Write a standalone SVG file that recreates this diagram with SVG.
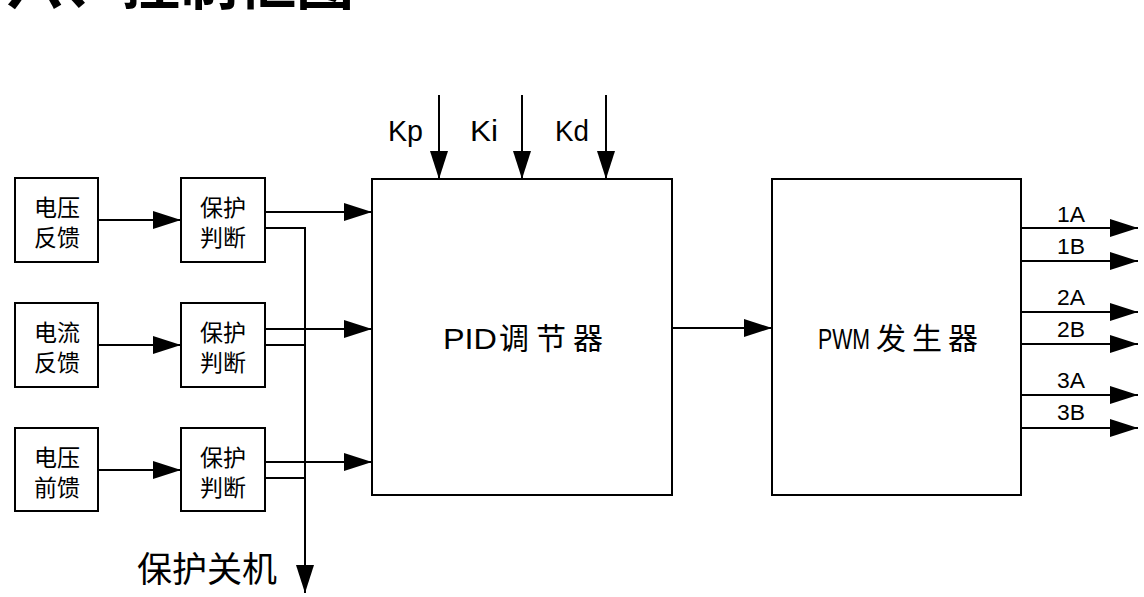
<svg xmlns="http://www.w3.org/2000/svg" width="1144" height="597" viewBox="0 0 1144 597">
<style>
.box{fill:#fff;stroke:#000;stroke-width:2}
.ln{fill:none;stroke:#000;stroke-width:2}
.zh{font-family:"Noto Sans CJK SC","Noto Sans",sans-serif;fill:#000}
.lat{font-family:"Liberation Sans","DejaVu Sans",sans-serif;fill:#000}
</style>
<defs>
<marker id="ah" markerUnits="userSpaceOnUse" markerWidth="28" markerHeight="18" refX="28" refY="9" orient="auto">
<path d="M0,0 L28,9 L0,18 Z" fill="#000"/>
</marker>
</defs>
<rect width="1144" height="597" fill="#fff"/>
<text class="zh" x="6" y="4" font-size="58" font-weight="bold">六、控制框图</text>

<g id="n-vfb"><rect class="box" x="15" y="178" width="83" height="84"/>
<text class="zh" x="57" y="216" font-size="23" text-anchor="middle">电压</text>
<text class="zh" x="57" y="246" font-size="23" text-anchor="middle">反馈</text></g>
<g id="n-ifb"><rect class="box" x="15" y="303" width="83" height="84"/>
<text class="zh" x="57" y="341" font-size="23" text-anchor="middle">电流</text>
<text class="zh" x="57" y="371" font-size="23" text-anchor="middle">反馈</text></g>
<g id="n-vff"><rect class="box" x="15" y="428" width="83" height="83"/>
<text class="zh" x="57" y="466" font-size="23" text-anchor="middle">电压</text>
<text class="zh" x="57" y="496" font-size="23" text-anchor="middle">前馈</text></g>

<g id="n-p1"><rect class="box" x="181" y="178" width="84" height="84"/>
<text class="zh" x="223" y="216" font-size="23" text-anchor="middle">保护</text>
<text class="zh" x="223" y="246" font-size="23" text-anchor="middle">判断</text></g>
<g id="n-p2"><rect class="box" x="181" y="303" width="84" height="84"/>
<text class="zh" x="223" y="341" font-size="23" text-anchor="middle">保护</text>
<text class="zh" x="223" y="371" font-size="23" text-anchor="middle">判断</text></g>
<g id="n-p3"><rect class="box" x="181" y="428" width="84" height="83"/>
<text class="zh" x="223" y="466" font-size="23" text-anchor="middle">保护</text>
<text class="zh" x="223" y="496" font-size="23" text-anchor="middle">判断</text></g>

<g id="n-pid"><rect class="box" x="372" y="179" width="300" height="316"/>
<text class="lat" x="443" y="349" font-size="30" textLength="54" lengthAdjust="spacingAndGlyphs">PID</text>
<text class="zh" x="499" y="349" font-size="30" letter-spacing="7">调节器</text></g>

<g id="n-pwm"><rect class="box" x="772" y="179" width="249" height="316"/>
<text class="lat" x="818" y="349" font-size="30" textLength="52" lengthAdjust="spacingAndGlyphs">PWM</text>
<text class="zh" x="876" y="349" font-size="30" letter-spacing="6">发生器</text></g>

<g id="labels">
<text class="lat" x="388" y="141" font-size="29" textLength="35" lengthAdjust="spacingAndGlyphs">Kp</text>
<text class="lat" x="470" y="141" font-size="29" textLength="28" lengthAdjust="spacingAndGlyphs">Ki</text>
<text class="lat" x="555" y="141" font-size="29" textLength="34" lengthAdjust="spacingAndGlyphs">Kd</text>
<text class="zh" x="137" y="582" font-size="35">保护关机</text>
<text class="lat" x="1057" y="222" font-size="22" textLength="28" lengthAdjust="spacingAndGlyphs">1A</text>
<text class="lat" x="1057" y="254" font-size="22" textLength="28" lengthAdjust="spacingAndGlyphs">1B</text>
<text class="lat" x="1057" y="305" font-size="22" textLength="28" lengthAdjust="spacingAndGlyphs">2A</text>
<text class="lat" x="1057" y="337" font-size="22" textLength="28" lengthAdjust="spacingAndGlyphs">2B</text>
<text class="lat" x="1057" y="388" font-size="22" textLength="28" lengthAdjust="spacingAndGlyphs">3A</text>
<text class="lat" x="1057" y="420" font-size="22" textLength="28" lengthAdjust="spacingAndGlyphs">3B</text>
</g>

<g id="connectors">
<line class="ln" x1="98" y1="220" x2="181" y2="220" marker-end="url(#ah)"/>
<line class="ln" x1="98" y1="345" x2="181" y2="345" marker-end="url(#ah)"/>
<line class="ln" x1="98" y1="470" x2="181" y2="470" marker-end="url(#ah)"/>
<line class="ln" x1="265" y1="212" x2="372" y2="212" marker-end="url(#ah)"/>
<line class="ln" x1="265" y1="329" x2="372" y2="329" marker-end="url(#ah)"/>
<line class="ln" x1="265" y1="462" x2="372" y2="462" marker-end="url(#ah)"/>
<polyline class="ln" points="265,228 305,228 305,593" marker-end="url(#ah)"/>
<line class="ln" x1="265" y1="345" x2="305" y2="345"/>
<line class="ln" x1="265" y1="478" x2="305" y2="478"/>
<line class="ln" x1="439" y1="95" x2="439" y2="179" marker-end="url(#ah)"/>
<line class="ln" x1="522" y1="95" x2="522" y2="179" marker-end="url(#ah)"/>
<line class="ln" x1="606" y1="95" x2="606" y2="179" marker-end="url(#ah)"/>
<line class="ln" x1="672" y1="328" x2="772" y2="328" marker-end="url(#ah)"/>
<line class="ln" x1="1021" y1="228" x2="1138" y2="228" marker-end="url(#ah)"/>
<line class="ln" x1="1021" y1="261" x2="1138" y2="261" marker-end="url(#ah)"/>
<line class="ln" x1="1021" y1="312" x2="1138" y2="312" marker-end="url(#ah)"/>
<line class="ln" x1="1021" y1="344" x2="1138" y2="344" marker-end="url(#ah)"/>
<line class="ln" x1="1021" y1="395" x2="1138" y2="395" marker-end="url(#ah)"/>
<line class="ln" x1="1021" y1="428" x2="1138" y2="428" marker-end="url(#ah)"/>
</g>
</svg>
